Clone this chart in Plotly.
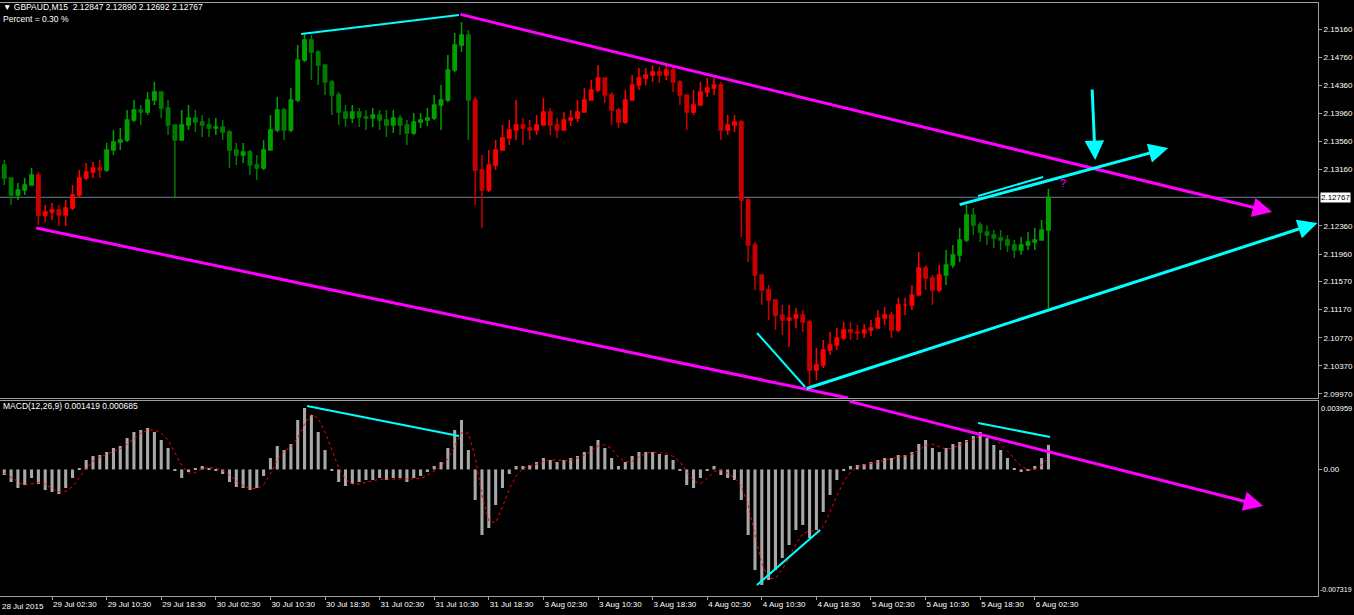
import pandas as pd
import plotly.graph_objects as go

# ---------------- data (hourly aggregation) ----------------
first_open = 2.13226
close = [2.13041, 2.12800, 2.12871, 2.12942, 2.13084, 2.12515, 2.12558, 2.12586, 2.12515, 2.12615,
         2.12800, 2.13041, 2.13127, 2.13184, 2.13155, 2.13440, 2.13553, 2.13582, 2.13866, 2.14008,
         2.13980, 2.14151, 2.14264, 2.14037, 2.13795, 2.13582, 2.13795, 2.13895, 2.13838, 2.13795,
         2.13752, 2.13767, 2.13696, 2.13440, 2.13368, 2.13411, 2.13226, 2.13184, 2.13440, 2.13724,
         2.14008, 2.13724, 2.14151, 2.14719, 2.15004, 2.14833, 2.14648, 2.14406, 2.14222, 2.13980,
         2.13895, 2.13980, 2.13909, 2.13895, 2.13937, 2.13866, 2.13795, 2.13895, 2.13795, 2.13681,
         2.13838, 2.13866, 2.13895, 2.14079, 2.14151, 2.14577, 2.14933, 2.15075, 2.14151, 2.13155,
         2.12871, 2.13226, 2.13440, 2.13610, 2.13724, 2.13795, 2.13752, 2.13724, 2.13795, 2.13980,
         2.13795, 2.13724, 2.13866, 2.13895, 2.13980, 2.14151, 2.14293, 2.14463, 2.14222, 2.14008,
         2.13838, 2.14151, 2.14364, 2.14463, 2.14506, 2.14549, 2.14506, 2.14577, 2.14406, 2.14222,
         2.13980, 2.14079, 2.14264, 2.14321, 2.14364, 2.13724, 2.13795, 2.13838, 2.12729, 2.12089,
         2.11662, 2.11449, 2.11307, 2.11093, 2.11022, 2.11051, 2.11093, 2.10994, 2.10311, 2.10382,
         2.10596, 2.10667, 2.10766, 2.10880, 2.10852, 2.10837, 2.10880, 2.10909, 2.11051, 2.11093,
         2.10880, 2.11236, 2.11236, 2.11378, 2.11762, 2.11620, 2.11449, 2.11662, 2.11804, 2.11947,
         2.12160, 2.12515, 2.12373, 2.12274, 2.12231, 2.12188, 2.12160, 2.12089, 2.12018, 2.12089,
         2.12131, 2.12160, 2.12302, 2.12767]
high = [2.13297, 2.13041, 2.12970, 2.13041, 2.13184, 2.13127, 2.12657, 2.12686, 2.12657, 2.12729,
        2.12942, 2.13155, 2.13255, 2.13269, 2.13297, 2.13539, 2.13724, 2.13752, 2.14008, 2.14151,
        2.14079, 2.14264, 2.14406, 2.14193, 2.14151, 2.13795, 2.14008, 2.14079, 2.14008, 2.13937,
        2.13895, 2.13895, 2.13866, 2.13724, 2.13539, 2.13539, 2.13440, 2.13368, 2.13582, 2.13937,
        2.14193, 2.14037, 2.14321, 2.14933, 2.15103, 2.15075, 2.14861, 2.14648, 2.14435, 2.14264,
        2.14079, 2.14079, 2.14037, 2.14008, 2.14037, 2.14008, 2.14008, 2.14008, 2.13937, 2.13866,
        2.13966, 2.13966, 2.14037, 2.14222, 2.14364, 2.14790, 2.15103, 2.15260, 2.15146, 2.14193,
        2.13368, 2.13440, 2.13582, 2.13795, 2.13866, 2.14151, 2.13895, 2.13866, 2.13937, 2.14179,
        2.14037, 2.13895, 2.13980, 2.14008, 2.14151, 2.14321, 2.14435, 2.14648, 2.14463, 2.14264,
        2.14037, 2.14293, 2.14506, 2.14606, 2.14606, 2.14648, 2.14620, 2.14677, 2.14620, 2.14435,
        2.14222, 2.14293, 2.14406, 2.14463, 2.14463, 2.14406, 2.13937, 2.13937, 2.13866, 2.12757,
        2.12131, 2.11662, 2.11520, 2.11307, 2.11236, 2.11236, 2.11193, 2.11165, 2.11022, 2.10624,
        2.10738, 2.10852, 2.10909, 2.10994, 2.10994, 2.10951, 2.10965, 2.11022, 2.11165, 2.11207,
        2.11136, 2.11335, 2.11335, 2.11520, 2.11989, 2.11804, 2.11662, 2.11804, 2.12018, 2.12089,
        2.12330, 2.12657, 2.12615, 2.12416, 2.12373, 2.12302, 2.12302, 2.12231, 2.12160, 2.12203,
        2.12274, 2.12330, 2.12444, 2.12890]
low = [2.12942, 2.12657, 2.12729, 2.12800, 2.12942, 2.12373, 2.12416, 2.12444, 2.12359, 2.12359,
       2.12586, 2.12757, 2.13013, 2.13041, 2.13041, 2.13127, 2.13368, 2.13440, 2.13553, 2.13838,
       2.13795, 2.13937, 2.14079, 2.13895, 2.13653, 2.12771, 2.13582, 2.13724, 2.13696, 2.13624,
       2.13624, 2.13653, 2.13582, 2.13184, 2.13226, 2.13255, 2.13084, 2.13013, 2.13155, 2.13440,
       2.13696, 2.13582, 2.13696, 2.14122, 2.14690, 2.14435, 2.14364, 2.14222, 2.13937, 2.13795,
       2.13767, 2.13823, 2.13767, 2.13724, 2.13767, 2.13724, 2.13624, 2.13681, 2.13653, 2.13511,
       2.13653, 2.13752, 2.13781, 2.13866, 2.13724, 2.14122, 2.14549, 2.14833, 2.13582, 2.12657,
       2.12330, 2.12842, 2.13155, 2.13440, 2.13511, 2.13582, 2.13511, 2.13582, 2.13653, 2.13795,
       2.13653, 2.13610, 2.13724, 2.13781, 2.13838, 2.14008, 2.14151, 2.14264, 2.14108, 2.13795,
       2.13752, 2.13810, 2.14151, 2.14293, 2.14364, 2.14406, 2.14392, 2.14435, 2.14264, 2.14079,
       2.13724, 2.13937, 2.14079, 2.14193, 2.14222, 2.13582, 2.13653, 2.13696, 2.12203, 2.11847,
       2.11449, 2.11236, 2.11022, 2.10880, 2.10809, 2.10638, 2.10909, 2.10852, 2.10055, 2.10169,
       2.10340, 2.10525, 2.10596, 2.10738, 2.10738, 2.10738, 2.10766, 2.10795, 2.10909, 2.10951,
       2.10766, 2.10852, 2.11093, 2.11165, 2.11449, 2.11449, 2.11236, 2.11420, 2.11520, 2.11762,
       2.11847, 2.12131, 2.12231, 2.12131, 2.12089, 2.12046, 2.12018, 2.11989, 2.11904, 2.11947,
       2.12018, 2.12018, 2.12160, 2.11193]

# trend colouring of the bars: index where each coloured run starts
trend_start = [0, 5, 15, 69, 138]
trend_dir = ["up", "down", "up", "down", "up"]

macd = [-0.000321, -0.000726, -0.001073, -0.000899, -0.000495, -0.000842, -0.001189, -0.001304, -0.001420, -0.001073,
        -0.000495, 0.000084, 0.000547, 0.000778, 0.000836, 0.001009, 0.001241, 0.001356, 0.001819, 0.002166,
        0.002282, 0.002397, 0.002166, 0.001703, 0.001241, -0.000032, -0.000495, -0.000147, 0.000084, 0.000200,
        0.000084, -0.000032, -0.000263, -0.000726, -0.001015, -0.001073, -0.001189, -0.001073, -0.000379, 0.000662,
        0.001356, 0.001125, 0.001472, 0.002860, 0.003554, 0.003149, 0.002166, 0.001125, -0.000032, -0.000726,
        -0.000957, -0.000842, -0.000726, -0.000610, -0.000610, -0.000495, -0.000610, -0.000495, -0.000495, -0.000726,
        -0.000495, -0.000379, -0.000147, 0.000200, 0.000431, 0.001241, 0.002282, 0.002860, 0.001125, -0.001767,
        -0.003791, -0.003387, -0.002056, -0.001073, -0.000263, 0.000200, 0.000200, 0.000257, 0.000431, 0.000662,
        0.000547, 0.000431, 0.000547, 0.000662, 0.000778, 0.001009, 0.001356, 0.001703, 0.001241, 0.000662,
        0.000200, 0.000431, 0.000778, 0.001009, 0.001009, 0.001009, 0.000894, 0.000836, 0.000547, -0.000032,
        -0.000899, -0.001073, -0.000495, -0.000032, 0.000200, -0.000321, -0.000495, -0.000610, -0.001767, -0.003791,
        -0.005816, -0.006683, -0.006394, -0.005816, -0.005122, -0.004370, -0.003502, -0.003213, -0.003965, -0.003502,
        -0.002461, -0.001478, -0.000610, -0.000032, 0.000200, 0.000257, 0.000315, 0.000431, 0.000547, 0.000662,
        0.000662, 0.000836, 0.000836, 0.001009, 0.001472, 0.001703, 0.001241, 0.001009, 0.001241, 0.001472,
        0.001588, 0.001703, 0.001935, 0.002166, 0.001819, 0.001414, 0.001125, 0.000662, 0.000084, -0.000147,
        -0.000032, 0.000200, 0.000662, 0.001419]
signal = [-0.00020, -0.00045, -0.00071, -0.00090, -0.00082, -0.00075, -0.00084, -0.00111, -0.00130, -0.00127,
          -0.00100, -0.00049, 0.00005, 0.00047, 0.00072, 0.00087, 0.00103, 0.00120, 0.00147, 0.00178,
          0.00209, 0.00228, 0.00228, 0.00209, 0.00170, 0.00097, 0.00024, -0.00022, -0.00019, 0.00005,
          0.00012, 0.00008, -0.00007, -0.00034, -0.00067, -0.00094, -0.00109, -0.00111, -0.00088, -0.00026,
          0.00055, 0.00105, 0.00132, 0.00182, 0.00263, 0.00319, 0.00296, 0.00215, 0.00109, 0.00012,
          -0.00057, -0.00084, -0.00084, -0.00073, -0.00065, -0.00057, -0.00057, -0.00053, -0.00053, -0.00057,
          -0.00057, -0.00053, -0.00034, -0.00011, 0.00016, 0.00062, 0.00132, 0.00213, 0.00209, 0.00074,
          -0.00148, -0.00298, -0.00308, -0.00217, -0.00113, -0.00038, 0.00005, 0.00022, 0.00030, 0.00045,
          0.00055, 0.00055, 0.00051, 0.00055, 0.00066, 0.00082, 0.00105, 0.00136, 0.00143, 0.00120,
          0.00070, 0.00043, 0.00047, 0.00074, 0.00093, 0.00101, 0.00097, 0.00091, 0.00076, 0.00045,
          -0.00013, -0.00067, -0.00082, -0.00053, -0.00011, -0.00005, -0.00021, -0.00048, -0.00096, -0.00206,
          -0.00379, -0.00543, -0.00630, -0.00630, -0.00578, -0.00510, -0.00433, -0.00370, -0.00356, -0.00356,
          -0.00331, -0.00248, -0.00152, -0.00071, -0.00015, 0.00014, 0.00026, 0.00033, 0.00043, 0.00055,
          0.00062, 0.00072, 0.00078, 0.00089, 0.00111, 0.00139, 0.00147, 0.00132, 0.00116, 0.00124,
          0.00143, 0.00159, 0.00174, 0.00193, 0.00197, 0.00180, 0.00145, 0.00107, 0.00062, 0.00020,
          -0.00003, 0.00001, 0.00028, 0.000685]

# axis labels
price_ticks = [2.15160, 2.14760, 2.14360, 2.13960, 2.13560, 2.13160, 2.12360,
               2.11960, 2.11570, 2.11170, 2.10770, 2.10370, 2.09970]
current_price = 2.12767
time_ticks = ["2015-07-29 02:30", "2015-07-29 10:30", "2015-07-29 18:30", "2015-07-30 02:30",
              "2015-07-30 10:30", "2015-07-30 18:30", "2015-07-31 02:30", "2015-07-31 10:30",
              "2015-07-31 18:30", "2015-08-03 02:30", "2015-08-03 10:30", "2015-08-03 18:30",
              "2015-08-04 02:30", "2015-08-04 10:30", "2015-08-04 18:30", "2015-08-05 02:30",
              "2015-08-05 10:30", "2015-08-05 18:30", "2015-08-06 02:30"]
time_labels = ["29 Jul 02:30", "29 Jul 10:30", "29 Jul 18:30", "30 Jul 02:30", "30 Jul 10:30",
               "30 Jul 18:30", "31 Jul 02:30", "31 Jul 10:30", "31 Jul 18:30", "3 Aug 02:30",
               "3 Aug 10:30", "3 Aug 18:30", "4 Aug 02:30", "4 Aug 10:30", "4 Aug 18:30",
               "5 Aug 02:30", "5 Aug 10:30", "5 Aug 18:30", "6 Aug 02:30"]
first_date_label = "28 Jul 2015"
x_view = ["2015-07-28 18:52:30", "2015-08-07 20:00"]
macd_top, macd_bottom = 0.003959, -0.007319

# hand-drawn analysis objects (time, price) – plain segments and arrows
plain_lines = [  # x0, y0, x1, y1, colour, width, panel
    ("2015-07-30 15:00", 2.15089, "2015-07-31 14:08", 2.15359, "#00FFFF", 2, "main"),
    ("2015-08-04 09:48", 2.10837, "2015-08-04 16:51", 2.10070, "#00FFFF", 2, "main"),
    ("2015-08-05 18:12", 2.12786, "2015-08-06 03:43", 2.13056, "#00FFFF", 2, "main"),
    ("2015-07-29 00:10", 2.12330, "2015-08-04 23:09", 2.09913, "#FF00FF", 3, "main"),
    ("2015-07-30 15:52", 0.003670, "2015-07-31 14:08", 0.001935, "#00FFFF", 2, "macd"),
    ("2015-08-04 09:48", -0.006683, "2015-08-04 19:03", -0.003502, "#00FFFF", 2, "macd"),
    ("2015-08-05 18:12", 0.002687, "2015-08-06 04:45", 0.001877, "#00FFFF", 2, "macd"),
]
arrow_lines = [  # tail x, tail y, head x, head y, colour, width, panel
    ("2015-07-31 14:08", 2.15373, "2015-08-07 13:17", 2.12558, "#FF00FF", 3, "main"),
    ("2015-08-04 16:51", 2.10041, "2015-08-07 19:55", 2.12402, "#00FFFF", 3, "main"),
    ("2015-08-05 15:16", 2.12657, "2015-08-06 22:03", 2.13468, "#00FFFF", 3, "main"),
    ("2015-08-06 10:54", 2.14321, "2015-08-06 11:21", 2.13297, "#00FFFF", 3, "main"),
    ("2015-08-04 23:09", 0.003959, "2015-08-07 11:58", -0.002113, "#FF00FF", 3, "macd"),
]
question_mark = ("2015-08-06 06:39", 2.12970)

# ---------------- build ----------------
FONT = "Liberation Sans, Arial, DejaVu Sans, sans-serif"
BORDER = "#a0a0a0"
UP_COL, UP_COL2 = "#00a000", "#007a00"
DN_COL, DN_COL2 = "#ff0000", "#c80000"

hours = pd.date_range("2015-07-28 19:30", periods=300, freq="h")
times = hours[hours.dayofweek < 5][:len(close)]
opens = [first_open] + close[:-1]

fig = go.Figure()
for i, s in enumerate(trend_start):
    e = trend_start[i + 1] if i + 1 < len(trend_start) else len(close)
    c1, c2 = (UP_COL, UP_COL2) if trend_dir[i] == "up" else (DN_COL, DN_COL2)
    fig.add_trace(go.Candlestick(
        x=times[s:e], open=opens[s:e], high=high[s:e], low=low[s:e], close=close[s:e],
        increasing=dict(line=dict(color=c1, width=1.5), fillcolor=c1),
        decreasing=dict(line=dict(color=c2, width=1.5), fillcolor=c2),
        whiskerwidth=0, showlegend=False, hoverinfo="skip", xaxis="x", yaxis="y"))

fig.add_trace(go.Bar(x=times, y=macd, width=0.45 * 3600000,
                     marker=dict(color="#a8a8a8", line=dict(width=0)),
                     xaxis="x2", yaxis="y2", hoverinfo="skip", showlegend=False))
fig.add_trace(go.Scatter(x=times, y=signal, mode="lines",
                         line=dict(color="#ff0000", width=1, dash="dot"),
                         xaxis="x2", yaxis="y2", hoverinfo="skip", showlegend=False))

shapes = [dict(type="line", xref="x domain", x0=0, x1=1, yref="y", y0=current_price, y1=current_price,
               line=dict(color="#6f7f8f", width=1), layer="below")]
for x0, y0, x1, y1, col, w, panel in plain_lines:
    xr, yr = ("x", "y") if panel == "main" else ("x2", "y2")
    shapes.append(dict(type="line", xref=xr, yref=yr, x0=x0, y0=y0, x1=x1, y1=y1,
                       line=dict(color=col, width=w)))

annotations = []
for tx, ty, hx, hy, col, w, panel in arrow_lines:
    xr, yr = ("x", "y") if panel == "main" else ("x2", "y2")
    annotations.append(dict(x=hx, y=hy, xref=xr, yref=yr, ax=tx, ay=ty, axref=xr, ayref=yr,
                            text="", showarrow=True, arrowhead=2, arrowsize=1.3,
                            arrowwidth=w, arrowcolor=col))

annotations += [
    dict(text="\u25bc\u00a0GBPAUD,M15\u00a0\u00a02.12847 2.12890 2.12692 2.12767",
         xref="paper", yref="paper", x=0, y=0.9883, xanchor="left", yanchor="middle",
         xshift=1, showarrow=False, font=dict(size=8.5, color="white")),
    dict(text="Percent = 0.30 %", xref="paper", yref="paper", x=0, y=0.9682,
         xanchor="left", yanchor="middle", xshift=1, showarrow=False,
         font=dict(size=8.5, color="white")),
    dict(text="MACD(12,26,9) 0.001419 0.000685", xref="paper", yref="paper", x=0, y=0.3199,
         xanchor="left", yanchor="middle", xshift=1, showarrow=False,
         font=dict(size=8.5, color="white")),
    dict(text=f"{current_price:.5f}", xref="paper", yref="y", x=1, y=current_price,
         xanchor="left", yanchor="middle", xshift=2, showarrow=False, bgcolor="white",
         borderpad=0, font=dict(size=8, color="black")),
    dict(text=f"{macd_top:.6f}", xref="paper", yref="y2", x=1, y=macd_top,
         xanchor="left", yanchor="top", xshift=1, yshift=-1, showarrow=False,
         font=dict(size=7.5, color="white")),
    dict(text=f"{macd_bottom:.6f}", xref="paper", yref="y2", x=1, y=macd_bottom,
         xanchor="left", yanchor="bottom", xshift=0, yshift=1, showarrow=False,
         font=dict(size=7, color="white")),
    dict(text=first_date_label, xref="paper", yref="paper", x=0, y=0, xanchor="left",
         yanchor="top", xshift=0, yshift=-3, showarrow=False, font=dict(size=8, color="white")),
    dict(text="?", xref="x", yref="y", x=question_mark[0], y=question_mark[1], showarrow=False,
         font=dict(size=11, color="#FF00FF")),
]

H_PLOT = 615 - 18
fig.update_layout(
    width=1354, height=615, margin=dict(l=0, r=36, t=0, b=18),
    paper_bgcolor="black", plot_bgcolor="black", showlegend=False, hovermode=False,
    font=dict(family=FONT, size=8, color="white"),
    xaxis=dict(domain=[0, 1], anchor="y", range=x_view, type="date",
               rangebreaks=[dict(bounds=["sat", "mon"])], rangeslider=dict(visible=False),
               showticklabels=False, ticks="", showgrid=False, zeroline=False,
               showline=True, mirror=True, linecolor=BORDER, linewidth=1),
    xaxis2=dict(domain=[0, 1], anchor="y2", matches="x", type="date",
                rangebreaks=[dict(bounds=["sat", "mon"])],
                tickvals=time_ticks, ticktext=time_labels, ticks="outside", ticklen=3,
                tickcolor=BORDER, ticklabelposition="outside right",
                tickfont=dict(size=8, color="white"),
                showgrid=False, zeroline=False, showline=True, mirror=True,
                linecolor=BORDER, linewidth=1),
    yaxis=dict(domain=[(H_PLOT - 398) / H_PLOT, (H_PLOT - 3) / H_PLOT], anchor="x", side="right",
               range=[2.09913, 2.15530], tickvals=price_ticks,
               ticktext=[f"{v:.5f}" for v in price_ticks], ticks="outside", ticklen=3,
               tickcolor=BORDER, tickfont=dict(size=8, color="white"),
               showgrid=False, zeroline=False, showline=True, linecolor=BORDER, linewidth=1),
    yaxis2=dict(domain=[(H_PLOT - 596) / H_PLOT, (H_PLOT - 401) / H_PLOT], anchor="x2", side="right",
                range=[macd_bottom, macd_top], tickvals=[0], ticktext=["0.00"],
                ticks="outside", ticklen=3, tickcolor=BORDER, tickfont=dict(size=8, color="white"),
                showgrid=False, zeroline=False, showline=True, linecolor=BORDER, linewidth=1),
    shapes=shapes, annotations=annotations,
)

fig.write_html("out.html", config={"displayModeBar": False})

# remove the browser's default page margin so the chart fills the window exactly
with open("out.html", "r", encoding="utf-8") as f:
    page = f.read()
page = page.replace("<head>", "<head><style>html,body{margin:0;padding:0;overflow:hidden;background:#000}</style>", 1)
with open("out.html", "w", encoding="utf-8") as f:
    f.write(page)
